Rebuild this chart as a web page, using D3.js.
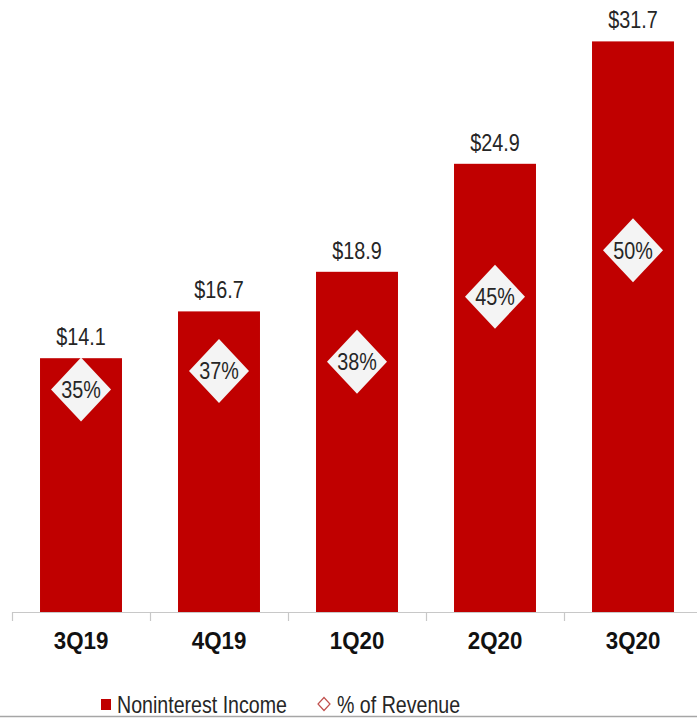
<!DOCTYPE html>
<html>
<head>
<meta charset="utf-8">
<script src="https://cdn.jsdelivr.net/npm/d3@7"></script>
<style>
  html, body { margin: 0; padding: 0; background: #fff; }
  svg { display: block; }
  text { font-family: "Liberation Sans", Arial, sans-serif; }
</style>
</head>
<body>
<svg id="chart" width="697" height="718"></svg>
<script>
// Quarterly noninterest income ($) and its share of revenue (%)
const quarters = ["3Q19", "4Q19", "1Q20", "2Q20", "3Q20"];
const nonInterestIncome = [14.1, 16.7, 18.9, 24.9, 31.7];
const pctOfRevenue = [35, 37, 38, 45, 50];
const legendLabels = ["Noninterest Income", "% of Revenue"];

const W = 697, H = 718;
const baseY = 612;
const svg = d3.select("#chart");

const barColor = "#C00000";
const textColor = "#262626";

// Squeeze rendered text horizontally to a narrow face
function condense(sel, k) {
  sel.each(function () {
    const w = this.getComputedTextLength();
    d3.select(this).attr("textLength", w * k).attr("lengthAdjust", "spacingAndGlyphs");
  });
}

const x = d3.scaleBand()
  .domain(quarters)
  .range([12, 702])
  .paddingInner(0.406)
  .paddingOuter(0.203);

const xSlot = d3.scaleBand().domain(quarters).range([12, 702]).padding(0);

const y = d3.scaleLinear().domain([0, 34]).range([baseY, 0]);
const y2 = d3.scaleLinear().domain([11, 77]).range([baseY, 0]);

const rows = quarters.map((q, i) => ({ q, v: nonInterestIncome[i], p: pctOfRevenue[i] }));

// Bars
svg.append("g").selectAll("rect")
  .data(rows)
  .join("rect")
  .attr("x", d => x(d.q))
  .attr("y", d => y(d.v))
  .attr("width", x.bandwidth())
  .attr("height", d => baseY - y(d.v))
  .attr("fill", barColor);

// Value labels above bars
svg.append("g").selectAll("text")
  .data(rows)
  .join("text")
  .attr("x", d => x(d.q) + x.bandwidth() / 2)
  .attr("y", d => y(d.v) - 13)
  .attr("text-anchor", "middle")
  .attr("font-size", 23)
  .attr("fill", textColor)
  .text(d => "$" + d3.format(".1f")(d.v))
  .call(condense, 0.86);

// Share-of-revenue diamonds
const hw = 30, hh = 32;
const diamond = `M0,${-hh}L${hw},0L0,${hh}L${-hw},0Z`;
const dg = svg.append("g").selectAll("g")
  .data(rows)
  .join("g")
  .attr("transform", d => `translate(${x(d.q) + x.bandwidth() / 2},${y2(d.p)})`);
dg.append("path").attr("d", diamond).attr("fill", "#f4f4f4");
dg.append("text")
  .attr("text-anchor", "middle")
  .attr("dy", "0.36em")
  .attr("font-size", 23)
  .attr("fill", textColor)
  .text(d => d.p + "%")
  .call(condense, 0.86);

// Category axis
svg.append("line")
  .attr("x1", 12).attr("x2", W)
  .attr("y1", baseY + 0.5).attr("y2", baseY + 0.5)
  .attr("stroke", "#c8c8c8").attr("stroke-width", 1.2);

svg.append("g").selectAll("line")
  .data(quarters)
  .join("line")
  .attr("x1", d => xSlot(d) + 0.5).attr("x2", d => xSlot(d) + 0.5)
  .attr("y1", baseY).attr("y2", baseY + 9)
  .attr("stroke", "#c8c8c8").attr("stroke-width", 1.2);

const xAxis = svg.append("g")
  .attr("transform", `translate(0,${baseY})`)
  .call(d3.axisBottom(x).tickSize(0).tickPadding(0));
xAxis.select(".domain").remove();
xAxis.selectAll("text")
  .attr("y", 37)
  .attr("dy", 0)
  .attr("font-family", "\"Liberation Sans\", Arial, sans-serif")
  .attr("font-size", 23)
  .attr("font-weight", "bold")
  .attr("fill", "#111")
  .call(condense, 0.97);

// Legend
const lg = svg.append("g");
lg.append("rect").attr("x", 101).attr("y", 699).attr("width", 10).attr("height", 11).attr("fill", barColor);
lg.append("text").attr("x", 117).attr("y", 713)
  .attr("font-size", 24.5).attr("fill", textColor)
  .text(legendLabels[0]).call(condense, 0.80);
lg.append("path")
  .attr("transform", "translate(324,704)")
  .attr("d", "M0,-6.5L6,0L0,6.5L-6,0Z")
  .attr("fill", "#fff").attr("stroke", "#c0504d").attr("stroke-width", 1.2);
lg.append("text").attr("x", 337).attr("y", 713)
  .attr("font-size", 24.5).attr("fill", textColor)
  .text(legendLabels[1]).call(condense, 0.80);

// Bottom frame edge
svg.append("line")
  .attr("x1", 0).attr("x2", W).attr("y1", H - 1.5).attr("y2", H - 1.5)
  .attr("stroke", "#a6a6a6").attr("stroke-width", 1.5);
</script>
</body>
</html>
